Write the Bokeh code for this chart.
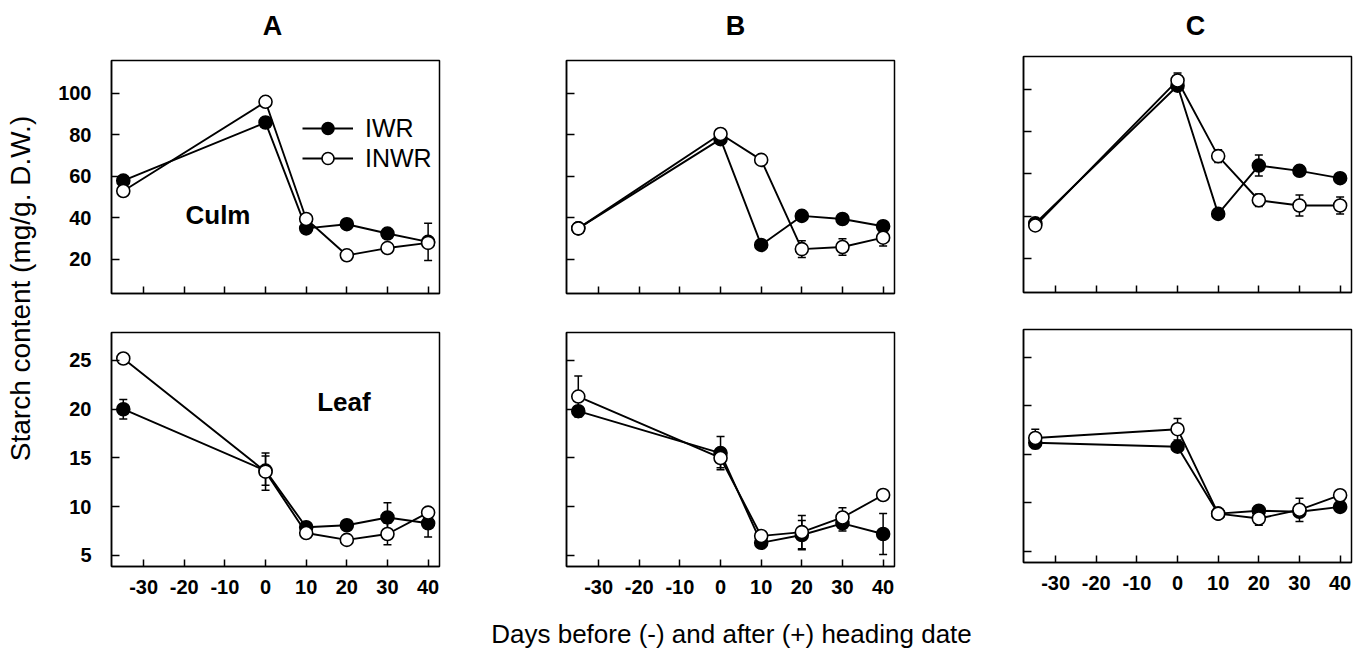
import math
from bokeh.plotting import figure
from bokeh.layouts import row, column
from bokeh.models import (ColumnDataSource, Whisker, TeeHead, Range1d, FixedTicker,
                          Label, Legend, LegendItem)
from bokeh.embed import file_html
from bokeh.resources import INLINE

# ---------------- data ----------------
days = [-35, 0, 10, 20, 30, 40]
x_ticks = [-30, -20, -10, 0, 10, 20, 30, 40]
x_tick_labels = ["-30", "-20", "-10", "0", "10", "20", "30", "40"]
culm_ticks = [20, 40, 60, 80, 100]
leaf_ticks = [5, 10, 15, 20, 25]
panel_titles = ["A", "B", "C"]
series_names = ["IWR", "INWR"]

# Panel A
a_culm_iwr = [58, 86, 35, 37, 32.5, 28.5]
a_culm_iwr_err = [1.5, 2, 1.5, 1.5, 1.5, 9]
a_culm_inwr = [53, 96, 39.5, 22, 25.5, 28]
a_culm_inwr_err = [1.5, 1.5, 1.5, 1, 1.5, 2]
a_leaf_iwr = [20.0, 13.7, 7.9, 8.1, 8.9, 8.3]
a_leaf_iwr_err = [1.0, 1.5, 0.4, 0.4, 1.5, 1.4]
a_leaf_inwr = [25.2, 13.6, 7.3, 6.6, 7.2, 9.4]
a_leaf_inwr_err = [0.5, 1.9, 0.4, 0.3, 1.1, 0.4]

# Panel B
b_culm_iwr = [35, 78, 27, 41, 39.5, 36]
b_culm_iwr_err = [1, 1.5, 1.5, 2, 1.5, 2]
b_culm_inwr = [35, 80.5, 68, 25, 26, 30.5]
b_culm_inwr_err = [1, 1.5, 2, 4, 4, 4]
b_leaf_iwr = [19.8, 15.5, 6.3, 7.1, 8.3, 7.2]
b_leaf_iwr_err = [0.5, 1.7, 0.4, 1.5, 0.8, 2.1]
b_leaf_inwr = [21.3, 15.0, 7.0, 7.4, 8.9, 11.2]
b_leaf_inwr_err = [2.1, 1.0, 0.4, 1.7, 1.0, 0.4]

# Panel C
c_culm_iwr = [36.5, 102, 41, 64, 61.5, 58]
c_culm_iwr_err = [1, 2, 1.5, 5, 1.5, 1.5]
c_culm_inwr = [35.5, 104.5, 68.5, 47.5, 45, 45]
c_culm_inwr_err = [1, 3.5, 3, 3, 5, 4]
c_leaf_iwr = [16.2, 15.8, 8.9, 9.2, 9.1, 9.6]
c_leaf_iwr_err = [0.6, 0.5, 0.3, 0.4, 0.4, 0.5]
c_leaf_inwr = [16.7, 17.6, 8.9, 8.4, 9.3, 10.8]
c_leaf_inwr_err = [0.9, 1.1, 0.3, 0.7, 1.2, 0.4]

FONT = "Liberation Sans"
X_RANGE = (-37.9, 42.8)
CULM_RANGE = (3.6, 115.9)
LEAF_RANGE = (3.87, 27.87)
FW = 328
X_LABEL = "Days before (-) and after (+) heading date"
Y_LABEL = "Starch content (mg/g. D.W.)"


def hide_labels(ax):
    ax.major_label_text_font_size = "1px"
    ax.major_label_text_color = None
    ax.major_label_standoff = 0


def style_axes(p, yticks, show_ylab, show_xlab):
    p.xaxis.ticker = FixedTicker(ticks=x_ticks)
    p.xaxis.major_label_overrides = {t: l for t, l in zip(x_ticks, x_tick_labels)}
    p.yaxis.ticker = FixedTicker(ticks=yticks)
    for ax in (p.xaxis[0], p.yaxis[0]):
        ax.axis_line_color = "black"
        ax.axis_line_width = 1.5
        ax.major_tick_line_color = "black"
        ax.major_tick_line_width = 1.5
        ax.major_tick_out = 0
        ax.minor_tick_line_color = None
        ax.major_label_text_font = FONT
        ax.major_label_text_font_style = "bold"
        ax.major_label_text_color = "black"
    p.xaxis.major_tick_in = 7
    p.yaxis.major_tick_in = 8
    if show_ylab:
        p.yaxis.major_label_text_font_size = "20px"
        p.yaxis.major_label_standoff = 20
    else:
        hide_labels(p.yaxis[0])
    if show_xlab:
        p.xaxis.major_label_text_font_size = "20px"
        p.xaxis.major_label_standoff = 13
    else:
        hide_labels(p.xaxis[0])
    p.xgrid.grid_line_color = None
    p.ygrid.grid_line_color = None
    p.outline_line_color = "black"
    p.outline_line_width = 1.5


def add_series(p, yvals, errs, filled):
    up = [v + e for v, e in zip(yvals, errs)]
    lo = [v - e for v, e in zip(yvals, errs)]
    src = ColumnDataSource(dict(x=days, y=yvals, upper=up, lower=lo))
    w = Whisker(source=src, base="x", upper="upper", lower="lower",
                line_color="black", line_width=1.5,
                upper_head=TeeHead(size=8, line_color="black", line_width=1.5),
                lower_head=TeeHead(size=8, line_color="black", line_width=1.5))
    p.add_layout(w)
    ln = p.line("x", "y", source=src, line_color="black", line_width=1.9)
    sc = p.scatter("x", "y", source=src, marker="circle", size=13,
                   fill_color="black" if filled else "white",
                   line_color="black", line_width=1.6)
    return ln, sc


def make_panel(yr, yticks, frame_h, mbt, mbl, mbr, mbb, show_ylab, show_xlab,
               iwr, iwr_err, inwr, inwr_err):
    p = figure(frame_width=FW, frame_height=frame_h,
               x_range=Range1d(*X_RANGE), y_range=Range1d(*yr),
               output_backend="svg", toolbar_location=None,
               min_border_top=mbt, min_border_left=mbl,
               min_border_right=mbr, min_border_bottom=mbb,
               background_fill_color="white", border_fill_color="white")
    style_axes(p, yticks, show_ylab, show_xlab)
    r_iwr = add_series(p, iwr, iwr_err, True)
    r_inwr = add_series(p, inwr, inwr_err, False)
    return p, r_iwr, r_inwr


def text_strip(width, height):
    s = figure(width=width, height=height, x_range=Range1d(0, width),
               y_range=Range1d(0, height), output_backend="svg",
               toolbar_location=None, min_border=0,
               x_axis_type=None, y_axis_type=None)
    s.outline_line_color = None
    s.xgrid.grid_line_color = None
    s.ygrid.grid_line_color = None
    return s


TITLE_H = 40

# ---------- column A ----------
topA, ra1, ra2 = make_panel(CULM_RANGE, culm_ticks, 233, 60 - TITLE_H, 67, 20, 14, True, False,
                            a_culm_iwr, a_culm_iwr_err, a_culm_inwr, a_culm_inwr_err)
botA, _, _ = make_panel(LEAF_RANGE, leaf_ticks, 234, 25, 67, 20, 40, True, True,
                        a_leaf_iwr, a_leaf_iwr_err, a_leaf_inwr, a_leaf_inwr_err)

topA.add_layout(Label(x=-19.7, y=41.2, text="Culm", text_font=FONT, text_font_size="26px",
                      text_font_style="bold", text_baseline="middle", text_color="black"))
botA.add_layout(Label(x=12.7, y=20.7, text="Leaf", text_font=FONT, text_font_size="26px",
                      text_font_style="bold", text_baseline="middle", text_color="black"))

legend = Legend(items=[LegendItem(label=series_names[0], renderers=[ra1[0], ra1[1]]),
                       LegendItem(label=series_names[1], renderers=[ra2[0], ra2[1]])],
                location=(191, 120), glyph_width=51, glyph_height=30, label_standoff=12,
                spacing=0, padding=0, margin=0, border_line_color=None,
                background_fill_alpha=0, label_text_font=FONT, label_text_font_size="25px",
                label_text_color="black", label_height=30)
topA.add_layout(legend)

# ---------- column B ----------
topB, _, _ = make_panel(CULM_RANGE, culm_ticks, 233, 60 - TITLE_H, 107, 20, 14, False, False,
                        b_culm_iwr, b_culm_iwr_err, b_culm_inwr, b_culm_inwr_err)
botB, _, _ = make_panel(LEAF_RANGE, leaf_ticks, 234, 25, 107, 20, 40, False, True,
                        b_leaf_iwr, b_leaf_iwr_err, b_leaf_inwr, b_leaf_inwr_err)

# ---------- column C ----------
topC, _, _ = make_panel(CULM_RANGE, culm_ticks, 236, 56 - TITLE_H, 109, 6, 14, False, False,
                        c_culm_iwr, c_culm_iwr_err, c_culm_inwr, c_culm_inwr_err)
botC, _, _ = make_panel(LEAF_RANGE, leaf_ticks, 233, 23, 109, 6, 44, False, True,
                        c_leaf_iwr, c_leaf_iwr_err, c_leaf_inwr, c_leaf_inwr_err)

# ---------- panel letters strip ----------
titles = text_strip(1358, TITLE_H)
for tx, tt in zip([272, 735, 1195], panel_titles):
    titles.add_layout(Label(x=tx, y=TITLE_H - 25, text=tt, text_font=FONT,
                            text_font_size="27px", text_font_style="bold",
                            text_align="center", text_baseline="middle", text_color="black"))

# ---------- y label strip ----------
ylab = text_strip(44, 606 - TITLE_H)
ylab.add_layout(Label(x=20, y=606 - 288, text=Y_LABEL, angle=math.pi / 2,
                      text_font=FONT, text_font_size="28px", text_align="center",
                      text_baseline="middle", text_color="black"))

# ---------- x label strip ----------
xlab = text_strip(1358, 44)
xlab.add_layout(Label(x=731, y=17, text=X_LABEL, text_font=FONT, text_font_size="26px",
                      text_align="center", text_baseline="middle", text_color="black"))

layout = column(titles,
                row(ylab, column(topA, botA), column(topB, botB), column(topC, botC)),
                xlab)

with open("out.html", "w") as f:
    f.write(file_html(layout, INLINE))
